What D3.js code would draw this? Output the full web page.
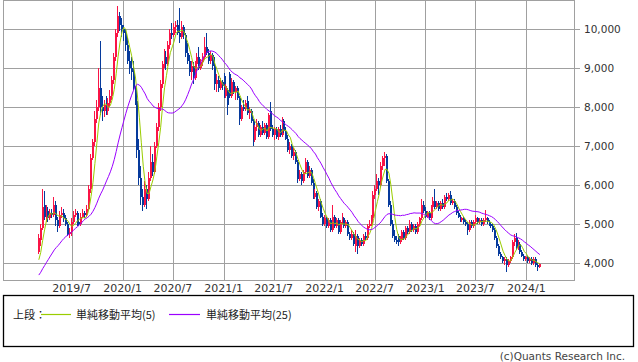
<!DOCTYPE html>
<html><head><meta charset="utf-8">
<script src="https://cdn.jsdelivr.net/npm/d3@7"></script>
<style>body{margin:0;background:#fff}svg{display:block}</style>
</head><body>
<svg id="c" width="638" height="362"></svg>
<script>
// ---- data (weekly candles, first week starting 2019-03-04) ----
const firstWeek = "2019-03-04";
// closes of the 24 weeks before the first drawn candle (only feed the moving averages)
const priorCloses = [3100,3150,3200,3250,3200,3250,3300,3500,3600,3650,3700,3700,3750,3800,3800,3900,4000,4050,4100,4000,3950,3900,3850,4100];
const opens = [
4300,4600,4900,5500,5200,5350,5150,5300,5250,5500,
5100,4950,5250,5300,5150,5000,4750,4800,5050,5250,
5300,5050,5000,5200,5300,5250,5400,5900,6700,7100,
7700,8000,8500,8000,7900,8050,7900,8100,8300,8700,
9300,9900,10350,10100,10000,9900,9600,9200,9000,8900,
8500,8150,6900,6200,5700,5500,5900,5650,6200,6600,
6350,7000,7500,8000,8600,9100,9300,9100,9600,9900,
9850,10050,10100,9900,9800,10050,9850,9400,9200,8900,
9050,8750,9100,9300,9000,9150,9300,9550,9400,9200,
9350,9050,8600,8700,8500,8650,8800,8300,8450,8850,
8300,8650,8400,8500,8250,7700,8000,7950,8150,7850,
7900,7650,7150,7500,7600,7300,7500,7350,7550,7250,
7900,7450,7300,7450,7250,7450,7300,7650,7400,7200,
6900,7000,6750,6850,6600,6150,6300,6100,6350,6600,
6250,6400,6050,5700,5800,5450,5600,5200,5000,5150,
4950,5100,4850,5200,4950,5100,4800,5050,5150,4950,
5050,4750,4650,4750,4450,4700,4450,4600,4500,4700,
4650,4950,5000,5150,5750,5900,6100,6000,6500,6700,
6750,6100,5500,5000,4700,4600,4700,4550,4600,4800,
4650,4900,4800,5000,4850,4950,4800,5000,5150,5500,
5350,5200,5300,5150,5450,5600,5450,5550,5400,5550,
5450,5700,5650,5750,5550,5600,5450,5300,5200,5100,
5150,5050,5000,4850,5050,4950,5050,5150,5050,5100,
5000,5100,5150,5050,5000,4950,4850,4650,4450,4250,
4150,4050,4100,3950,4050,4150,4550,4650,4400,4500,
4300,4200,4100,4150,4050,4100,4000,4100,3950,3900];
const highs = [
4750,5000,5900,5850,5500,5450,5400,5400,5700,5600,
5200,5350,5450,5400,5250,5050,4900,5150,5350,5400,
5350,5150,5300,5400,5350,5500,6000,6800,7200,7900,
8200,9000,9700,8300,8200,8300,8250,8450,8800,9400,
10000,10600,10450,10300,10100,10000,9800,9450,9300,9200,
8550,8200,7200,6500,5900,6100,6000,6350,7000,6800,
7100,7600,8100,8700,9200,9500,9450,9700,10000,10150,
10150,10200,10250,10550,10200,10100,9900,9650,9350,9200,
9150,9200,9400,9550,9250,9400,9800,9900,9500,9450,
9400,9300,8850,8800,8750,8700,8870,8600,8500,8900,
8750,8700,8550,8550,8300,8050,8200,8200,8300,8000,
7950,7700,7550,7700,7650,7550,7650,7600,7600,7850,
8130,7550,7500,7500,7500,7550,7760,7700,7500,7300,
7100,7050,6950,6900,6650,6400,6350,6400,6700,6650,
6500,6450,6150,5900,5850,5650,5650,5300,5250,5200,
5150,5150,5490,5250,5150,5150,5100,5300,5200,5100,
5100,4800,4850,4800,4850,4750,4650,4650,4750,4800,
5000,5100,5250,5850,6000,6300,6200,6600,6750,6850,
6800,6150,5600,5100,4850,4700,4750,4700,4850,4850,
4950,4950,5100,5050,5000,5000,5050,5200,5650,5600,
5450,5350,5350,5500,5700,5900,5600,5600,5600,5650,
5750,5800,5800,5850,5650,5650,5500,5350,5250,5200,
5200,5100,5050,5100,5100,5100,5250,5200,5150,5150,
5150,5370,5200,5100,5050,5000,4900,4700,4500,4300,
4200,4150,4150,4100,4200,4600,4750,4780,4600,4550,
4350,4250,4200,4200,4150,4150,4150,4150,4000,4000];
const lows = [
4250,4450,4850,5100,5050,5050,5100,5150,5200,4950,
4800,4900,5150,5050,4950,4700,4650,4700,5000,5200,
4950,4950,4950,5150,5150,5200,5350,5800,6650,7000,
7600,7900,7800,7650,7750,7800,7800,8000,8200,8600,
9200,9800,9950,9800,9700,9450,9100,8850,8700,8450,
8050,6700,6000,5500,5350,5450,5400,5600,6100,6250,
6300,6950,7400,7900,8500,9000,8950,9050,9500,9750,
9800,9900,9850,9650,9750,9750,9300,9100,8800,8700,
8600,8700,9000,8950,8950,9050,9250,9350,9100,9100,
8950,8450,8400,8400,8450,8450,8250,8250,7800,8250,
8250,8350,8200,8200,7550,7650,7900,7900,7800,7700,
7600,7000,7100,7400,7250,7250,7300,7300,7200,7200,
7400,7250,7150,7200,7150,7250,7250,7350,7150,6850,
6800,6700,6650,6550,6050,6100,6000,6050,6300,6200,
6200,6000,5650,5650,5400,5350,5150,4950,4950,4900,
4900,4800,4800,4900,4900,4750,4750,5000,4900,4900,
4700,4600,4600,4450,4300,4250,4400,4450,4450,4600,
4600,4900,4950,5100,5650,5850,5750,5950,6400,6500,
6050,5450,4950,4650,4550,4500,4450,4500,4550,4600,
4600,4750,4750,4800,4800,4750,4750,4950,5100,5300,
5150,5150,5100,5100,5400,5400,5400,5350,5350,5400,
5400,5600,5600,5500,5500,5400,5250,5150,5050,5050,
5000,4950,4720,4800,4900,4900,5000,5000,5000,4950,
4950,5050,5000,4950,4900,4800,4600,4400,4200,4100,
4000,3950,3780,3900,4000,4100,4450,4350,4350,4250,
4150,4050,4050,4000,4000,3950,3950,3900,3800,3880];
const closes = [
4650,4900,5450,5200,5350,5150,5300,5250,5500,5100,
4950,5250,5300,5150,5000,4750,4800,5050,5250,5300,
5050,5000,5200,5300,5250,5400,5900,6700,7100,7700,
8000,8500,8000,7900,8050,7900,8100,8300,8700,9300,
9900,10350,10100,10000,9900,9600,9200,9000,8900,8500,
8150,6900,6200,5700,5500,5900,5650,6200,6600,6350,
7000,7500,8000,8600,9100,9300,9100,9600,9900,9850,
10050,10100,9900,9800,10050,9850,9400,9200,8900,9050,
8750,9100,9300,9000,9150,9300,9550,9400,9200,9350,
9050,8600,8700,8500,8650,8550,8300,8550,8050,8300,
8650,8400,8500,8250,7700,8000,7950,8100,7850,7900,
7650,7150,7500,7600,7300,7500,7350,7550,7250,7800,
7450,7300,7450,7250,7450,7300,7650,7400,7200,6900,
7000,6750,6850,6600,6150,6300,6100,6350,6600,6250,
6400,6050,5700,5800,5450,5600,5200,5000,5150,4950,
5100,4850,5200,4950,5100,4800,5050,5150,4950,5050,
4750,4650,4750,4500,4700,4450,4600,4500,4700,4650,
4950,5000,5150,5750,5900,6100,6000,6500,6700,6750,
6100,5500,5000,4700,4600,4550,4550,4600,4800,4650,
4900,4800,5000,4850,4950,4800,5000,5150,5500,5350,
5200,5300,5150,5450,5600,5450,5550,5400,5550,5450,
5700,5650,5750,5550,5600,5450,5300,5200,5100,5150,
5050,5000,4850,5050,4950,5050,5150,5050,5100,5000,
5100,5150,5050,5000,4950,4850,4650,4450,4250,4150,
4050,4100,3950,4050,4150,4550,4650,4400,4500,4300,
4200,4100,4150,4050,4100,4000,4100,3950,3900,3980];
const yTicks = [4000,5000,6000,7000,8000,9000,10000];
const xTickDates = ["2019-07-01","2020-01-01","2020-07-01","2021-01-01","2021-07-01","2022-01-01","2022-07-01","2023-01-01","2023-07-01","2024-01-01"];
const xTickLabels = ["2019/7","2020/1","2020/7","2021/1","2021/7","2022/1","2022/7","2023/1","2023/7","2024/1"];
const maPeriods = [5, 25];
const maColors = ["#9acd00", "#9b00ff"];
const legendPrefix = "上段：";
const legendLabels = ["単純移動平均(5)", "単純移動平均(25)"];
const copyright = "(c)Quants Research Inc.";

// ---- chart ----
const svg = d3.select("#c");
const parse = d3.timeParse("%Y-%m-%d");
const start = parse(firstWeek);
const dates = closes.map((_, i) => d3.timeWeek.offset(start, i));

const x = d3.scaleTime()
  .domain([parse("2019-07-01"), parse("2024-01-01")])
  .range([71.7, 526.3]);
const y = d3.scaleLinear().domain([4000, 10000]).range([263.3, 29.3]);

const L = 3, R = 574, T = 0, B = 280;
const gridColor = "#a0a0a0";

// grid
const g = svg.append("g").attr("shape-rendering", "crispEdges");
g.selectAll("line.h").data(yTicks).join("line")
  .attr("x1", L).attr("x2", R + 6)
  .attr("y1", d => Math.round(y(d)) + 0.5).attr("y2", d => Math.round(y(d)) + 0.5)
  .attr("stroke", gridColor);
g.selectAll("line.v").data(xTickDates).join("line")
  .attr("x1", d => Math.round(x(parse(d))) + 0.5).attr("x2", d => Math.round(x(parse(d))) + 0.5)
  .attr("y1", T).attr("y2", B)
  .attr("stroke", gridColor);
g.append("rect").attr("x", L + 0.5).attr("y", T + 0.5)
  .attr("width", R - L).attr("height", B - T)
  .attr("fill", "none").attr("stroke", gridColor);

// y labels
svg.append("g").selectAll("text").data(yTicks).join("text")
  .attr("x", 584).attr("y", d => Math.round(y(d)) + 4)
  .attr("font-family", "DejaVu Sans").attr("font-size", "10.5px").attr("fill", "#333")
  .text(d => d3.format(",")(d));

// x labels
svg.append("g").selectAll("text").data(xTickDates).join("text")
  .attr("x", d => x(parse(d))).attr("y", 292)
  .attr("text-anchor", "middle")
  .attr("font-family", "DejaVu Sans").attr("font-size", "11px").attr("fill", "#333")
  .text((d, i) => xTickLabels[i]);

// candles
const upColor = "#fa1446", downColor = "#063a9c";
const cg = svg.append("g").attr("shape-rendering", "crispEdges");
closes.forEach((c, i) => {
  const o = opens[i];
  const hi = Math.max(highs[i], o, c), lo = Math.min(lows[i], o, c);
  const col = c >= o ? upColor : downColor;
  const cx = Math.round(x(dates[i]) - 1);
  cg.append("rect").attr("x", cx).attr("width", 1)
    .attr("y", Math.round(y(hi))).attr("height", Math.max(1, Math.round(y(lo)) - Math.round(y(hi))))
    .attr("fill", col);
  const top = Math.round(y(Math.max(o, c))), bot = Math.round(y(Math.min(o, c)));
  cg.append("rect").attr("x", cx).attr("width", 2)
    .attr("y", top).attr("height", Math.max(1, bot - top))
    .attr("fill", col);
});

// moving averages
const all = priorCloses.concat(closes);
const off = priorCloses.length;
maPeriods.forEach((p, k) => {
  const vals = closes.map((_, i) => d3.mean(all.slice(off + i - p + 1, off + i + 1)));
  const line = d3.line().x((d, i) => x(dates[i])).y(d => y(d));
  svg.append("path").datum(vals).attr("d", line)
    .attr("fill", "none").attr("stroke", maColors[k]).attr("stroke-width", 1);
});

// legend
svg.append("rect").attr("x", 3.5).attr("y", 295.5).attr("width", 630).attr("height", 51)
  .attr("fill", "none").attr("stroke", "#000").attr("stroke-width", 1.3);
const lg = svg.append("g").attr("font-family", "Noto Sans CJK JP").attr("font-size", "11px").attr("fill", "#222");
lg.append("text").attr("x", 13).attr("y", 318.5).text(legendPrefix);
const lx = [[41, 71, 76], [169, 200, 206]];
legendLabels.forEach((t, k) => {
  lg.append("line").attr("x1", lx[k][0]).attr("x2", lx[k][1]).attr("y1", 314.5).attr("y2", 314.5)
    .attr("stroke", maColors[k]).attr("stroke-width", 1.2);
  lg.append("text").attr("x", lx[k][2]).attr("y", 318.5).text(t);
});

svg.append("text").attr("x", 625).attr("y", 360).attr("text-anchor", "end")
  .attr("font-family", "DejaVu Sans").attr("font-size", "10.5px").attr("fill", "#444")
  .text(copyright);
</script>
</body></html>
